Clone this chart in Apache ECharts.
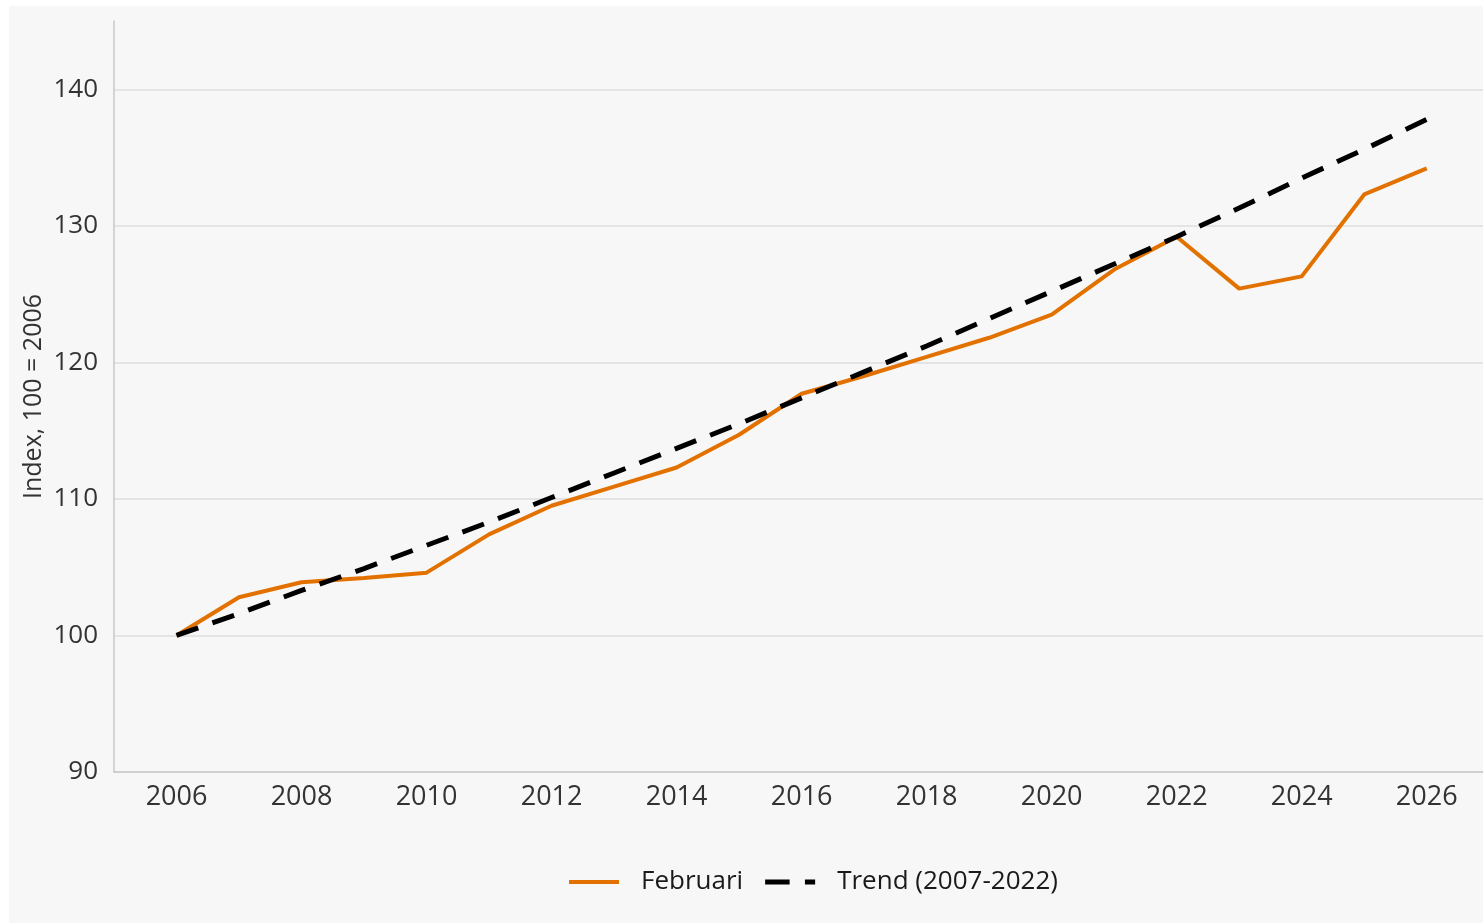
<!DOCTYPE html>
<html>
<head>
<meta charset="utf-8">
<script src="https://cdn.jsdelivr.net/npm/echarts@6/dist/echarts.min.js"></script>
<style>
html,body{margin:0;padding:0;background:#ffffff;width:1483px;height:923px;overflow:hidden;}
#chart{position:absolute;left:9px;top:6px;width:1474px;height:917px;}
</style>
</head>
<body>
<div id="chart"></div>
<script>
const years = [2006,2007,2008,2009,2010,2011,2012,2013,2014,2015,2016,2017,2018,2019,2020,2021,2022,2023,2024,2025,2026];
const februari = [100.0,102.8,103.9,104.2,104.6,107.4,109.5,110.9,112.3,114.7,117.7,119.0,120.4,121.8,123.5,126.8,129.2,125.4,126.3,132.3,134.2];
const trend = [100.0,101.6,103.3,104.9,106.6,108.3,110.1,111.9,113.7,115.5,117.4,119.3,121.2,123.2,125.2,127.2,129.2,131.3,133.5,135.6,137.8];
const seriesNames = ['Februari','Trend (2007-2022)'];
const yAxisTitle = 'Index, 100 = 2006';

const FONT = '"Open Sans", "Noto Sans", sans-serif';
const chart = echarts.init(document.getElementById('chart'), null, {renderer:'canvas'});
chart.setOption({
  animation:false,
  backgroundColor:'#f7f7f7',
  textStyle:{fontFamily:FONT},
  grid:{left:105,right:0,top:15,bottom:151,containLabel:false},
  legend:{
    left:555, top:858,
    itemWidth:50, itemHeight:20, itemGap:22,
    textStyle:{fontFamily:FONT,fontSize:26,color:'#1a1a1a',padding:[0,0,0,17]},
    data:[
      {name:seriesNames[0],icon:'path://M0,0L50,0L50,4L0,4Z',itemStyle:{color:'#e27100'}},
      {name:seriesNames[1],icon:'path://M0,0L24,0L24,5L0,5Z M39,0L49,0L49,5L39,5Z',itemStyle:{color:'#000000'}}
    ]
  },
  xAxis:{
    type:'value', min:2005, max:2026.9, interval:1,
    axisLine:{show:true,lineStyle:{color:'#c8c8c8',width:1.5}},
    axisTick:{show:false},
    splitLine:{show:false},
    axisLabel:{
      fontFamily:FONT,fontSize:27,color:'#333',margin:12,
      showMaxLabel:false,
      formatter:function(v){return (Number.isInteger(v) && v%2===0 && v>=2006 && v<=2026)? String(v):'';}
    }
  },
  yAxis:{
    type:'value', min:90, max:145, interval:10,
    name:yAxisTitle, nameLocation:'middle', nameGap:68, nameRotate:90,
    nameMoveOverlap:false,
    nameTextStyle:{fontFamily:FONT,fontSize:25,color:'#333'},
    axisLine:{show:true,lineStyle:{color:'#c8c8c8',width:1.5}},
    axisTick:{show:false},
    splitLine:{show:true,showMaxLine:false,lineStyle:{color:'#dedede',width:1.5}},
    axisLabel:{
      fontFamily:FONT,fontSize:26,color:'#333',margin:16,
      showMaxLabel:false,
      formatter:function(v){return v%10===0? String(v):'';}
    }
  },
  series:[
    {
      name:seriesNames[0], type:'line', symbol:'none', z:3,
      data:years.map((y,i)=>[y,februari[i]]),
      lineStyle:{color:'#e27100',width:4},
      itemStyle:{color:'#e27100'}
    },
    {
      name:seriesNames[1], type:'line', symbol:'none', z:4,
      data:years.map((y,i)=>[y,trend[i]]),
      lineStyle:{color:'#000000',width:5,type:[23,15]},
      itemStyle:{color:'#000000'}
    }
  ]
});
</script>
</body>
</html>
